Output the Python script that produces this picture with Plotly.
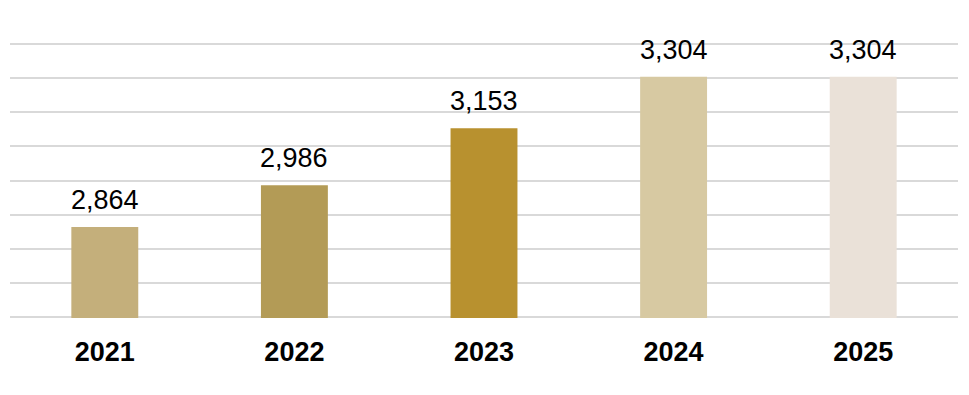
import plotly.graph_objects as go

years = ["2021", "2022", "2023", "2024", "2025"]
values = [2864, 2986, 3153, 3304, 3304]
value_labels = ["2,864", "2,986", "3,153", "3,304", "3,304"]
bar_colors = ["#C4AF7B", "#B39B56", "#B8912F", "#D7C9A2", "#EAE1D8"]

fig = go.Figure()
fig.add_trace(go.Bar(
    x=years, y=values,
    marker=dict(color=bar_colors, line=dict(width=0)),
    hoverinfo="skip",
))

# annotations placed by category index (numeric-looking category names
# would otherwise be read as serial numbers)
for i, (v, lab) in enumerate(zip(values, value_labels)):
    fig.add_annotation(
        x=i, y=v, text=lab, showarrow=False,
        yanchor="bottom", yshift=10,
        font=dict(family="Liberation Sans, Arial, sans-serif", size=27, color="#000000"),
    )

fig.update_layout(
    width=969, height=395,
    margin=dict(l=2, r=19, t=35, b=85, autoexpand=False),
    paper_bgcolor="white", plot_bgcolor="white",
    bargap=0.647,
    showlegend=False,
    xaxis=dict(
        type="category", automargin=False,
        showgrid=False, showline=False, zeroline=False,
        ticks="", ticklabelstandoff=15,
        tickfont=dict(family="Liberation Sans, Arial, sans-serif", size=27, color="#000000", weight="bold"),
    ),
    yaxis=dict(
        range=[2597, 3403], dtick=100, tick0=2600, automargin=False,
        showticklabels=False, showgrid=True, gridcolor="#D9D9D9", gridwidth=2,
        zeroline=False, showline=False,
    ),
)

fig.write_html("out.html")
